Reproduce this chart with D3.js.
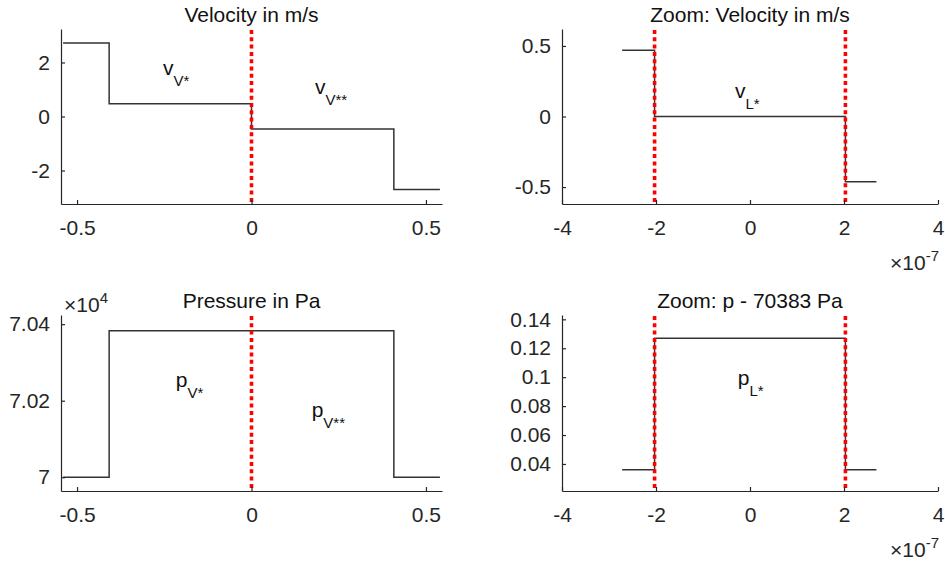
<!DOCTYPE html>
<html>
<head>
<meta charset="utf-8">
<script src="https://cdn.jsdelivr.net/npm/d3@7"></script>
<style>
  body { margin: 0; background: #fff; }
  svg { display: block; font-family: "Liberation Sans", Arial, Helvetica, sans-serif; }
</style>
</head>
<body>
<figure id="riemann" style="margin:0"></figure>
<script>
// step data
const velEdges = [-0.54, -0.408, 0, 0.408, 0.54];
const velValues = [2.72, 0.47, -0.46, -2.70];
const presEdges = [-0.54, -0.408, 0, 0.408, 0.54];
const presValues = [70000, 70383.127, 70383.127, 70000];
const zoomEdges = [-2.72e-7, -2.03e-7, 2.03e-7, 2.69e-7];
const zoomVelValues = [0.47, 0.0, -0.462];
const zoomPresValues = [0.036, 0.127, 0.036];
const contactFull = [0];
const contactZoom = [-2.03e-7, 2.03e-7];

// ticks
const fullTicksX = [-0.5, 0, 0.5];
const fullTickLabelsX = ["-0.5", "0", "0.5"];
const zoomTicksX = [-4e-7, -2e-7, 0, 2e-7, 4e-7];
const zoomTickLabelsX = ["-4", "-2", "0", "2", "4"];
const velTicksY = [-2, 0, 2];
const velTickLabelsY = ["-2", "0", "2"];
const zoomVelTicksY = [-0.5, 0, 0.5];
const zoomVelTickLabelsY = ["-0.5", "0", "0.5"];
const presTicksY = [70000, 70200, 70400];
const presTickLabelsY = ["7", "7.02", "7.04"];
const zoomPresTicksY = [0.04, 0.06, 0.08, 0.1, 0.12, 0.14];
const zoomPresTickLabelsY = ["0.04", "0.06", "0.08", "0.1", "0.12", "0.14"];

const width = 945, height = 570;
const ink = "#262626";

const svg = d3.select("figure#riemann")
  .append("svg")
  .attr("width", width)
  .attr("height", height);

const panels = [
  { title: "Velocity in m/s", left: 61, right: 442, top: 29, bottom: 204,
    xDomain: [-0.546, 0.546], yDomain: [-3.24, 3.24],
    edges: velEdges, values: velValues, contacts: contactFull,
    xt: fullTicksX, xl: fullTickLabelsX, yt: velTicksY, yl: velTickLabelsY,
    notes: [{ x: -0.254, y: 1.54, main: "v", sub: "V*" }, { x: 0.182, y: 0.84, main: "v", sub: "V**" }] },
  { title: "Zoom: Velocity in m/s", left: 562, right: 938, top: 29, bottom: 204,
    xDomain: [-4e-7, 4e-7], yDomain: [-0.62, 0.62],
    edges: zoomEdges, values: zoomVelValues, contacts: contactZoom,
    xt: zoomTicksX, xl: zoomTickLabelsX, yt: zoomVelTicksY, yl: zoomVelTickLabelsY,
    exp: "-7",
    notes: [{ x: -0.32e-7, y: 0.132, main: "v", sub: "L*" }] },
  { title: "Pressure in Pa", left: 61, right: 442, top: 315, bottom: 491,
    xDomain: [-0.546, 0.546], yDomain: [69964, 70424],
    edges: presEdges, values: presValues, contacts: contactFull,
    xt: fullTicksX, xl: fullTickLabelsX, yt: presTicksY, yl: presTickLabelsY,
    yExp: "4",
    notes: [{ x: -0.217, y: 70236, main: "p", sub: "V*" }, { x: 0.1725, y: 70158, main: "p", sub: "V**" }] },
  { title: "Zoom: p - 70383 Pa", left: 562, right: 938, top: 315, bottom: 491,
    xDomain: [-4e-7, 4e-7], yDomain: [0.0213, 0.143],
    edges: zoomEdges, values: zoomPresValues, contacts: contactZoom,
    xt: zoomTicksX, xl: zoomTickLabelsX, yt: zoomPresTicksY, yl: zoomPresTickLabelsY,
    exp: "-7",
    notes: [{ x: -0.26e-7, y: 0.0946, main: "p", sub: "L*" }] }
];

panels.forEach(drawPanel);

function drawPanel(p) {
  const x = d3.scaleLinear().domain(p.xDomain).range([p.left, p.right]);
  const y = d3.scaleLinear().domain(p.yDomain).range([p.bottom, p.top]);
  const g = svg.append("g");

  // step line: last value is held to the final edge
  const pts = p.values.map((v, i) => [p.edges[i], v]);
  pts.push([p.edges[p.edges.length - 1], p.values[p.values.length - 1]]);
  g.append("path")
    .datum(pts)
    .attr("fill", "none")
    .attr("stroke", "#333")
    .attr("stroke-width", 1.5)
    .attr("d", d3.line().x(d => x(d[0])).y(d => y(d[1])).curve(d3.curveStepAfter));

  // contact discontinuities
  g.selectAll(".contact")
    .data(p.contacts)
    .enter()
    .append("line")
    .attr("x1", d => x(d)).attr("x2", d => x(d))
    .attr("y1", p.top + 1).attr("y2", p.bottom)
    .attr("stroke", "#ff0000")
    .attr("stroke-width", 3.6)
    .attr("stroke-dasharray", "4,3.3");

  // axes
  const xAxis = d3.axisBottom(x).tickValues(p.xt).tickFormat((d, i) => p.xl[i])
    .tickSizeInner(-4).tickSizeOuter(0).tickPadding(16);
  const yAxis = d3.axisLeft(y).tickValues(p.yt).tickFormat((d, i) => p.yl[i])
    .tickSizeInner(-4).tickSizeOuter(0).tickPadding(11);

  const gx = g.append("g").attr("transform", "translate(0," + p.bottom + ")").call(xAxis);
  const gy = g.append("g").attr("transform", "translate(" + p.left + ",0)").call(yAxis);
  [gx, gy].forEach(a => {
    a.select(".domain").attr("stroke", ink).attr("stroke-width", 1.2);
    a.selectAll(".tick line").attr("stroke", ink).attr("stroke-width", 1.2);
    a.selectAll(".tick text").attr("fill", ink).style("font-size", "21px");
  });

  // title
  g.append("text")
    .attr("x", (p.left + p.right) / 2)
    .attr("y", p.top - 7)
    .attr("text-anchor", "middle")
    .attr("fill", "#111")
    .style("font-size", "21px")
    .text(p.title);

  // exponent labels
  if (p.exp) {
    const t = g.append("text")
      .attr("x", p.right + 1)
      .attr("y", p.bottom + 66)
      .attr("text-anchor", "end")
      .attr("fill", ink)
      .style("font-size", "21px");
    t.append("tspan").text("\u00d710");
    t.append("tspan").attr("dy", -9).style("font-size", "15px").text(p.exp);
  }
  if (p.yExp) {
    const t = g.append("text")
      .attr("x", p.left + 3)
      .attr("y", p.top - 3)
      .attr("fill", ink)
      .style("font-size", "21px");
    t.append("tspan").text("\u00d710");
    t.append("tspan").attr("dy", -9).style("font-size", "15px").text(p.yExp);
  }

  // state labels
  p.notes.forEach(n => {
    const t = g.append("text")
      .attr("x", x(n.x))
      .attr("y", y(n.y))
      .attr("fill", "#111")
      .style("font-size", "21px");
    t.append("tspan").text(n.main);
    t.append("tspan").attr("dy", 11).style("font-size", "15px").text(n.sub);
  });
}
</script>
</body>
</html>
